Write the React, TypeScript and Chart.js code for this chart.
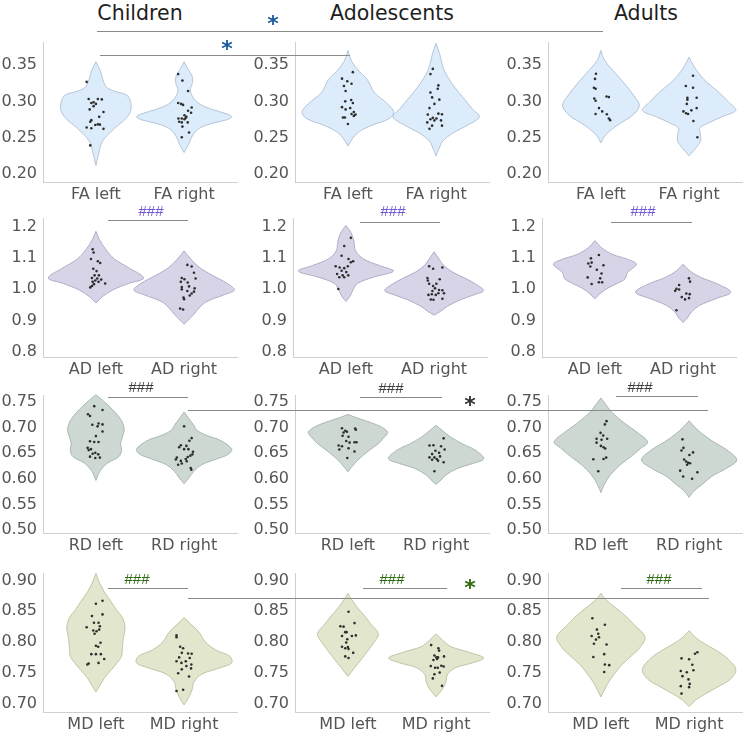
import React, { useEffect, useRef } from "react";
import { Chart, registerables } from "chart.js";
Chart.register(...registerables);
const FONT = "'DejaVu Sans', 'Liberation Sans', Arial, sans-serif";
Chart.defaults.font.family = FONT;

type Pair = [number, number];

const GROUPS = ["Children", "Adolescents", "Adults"];
const MEASURES = ["FA", "AD", "RD", "MD"];
const SIDES = ["left", "right"];

const FA_TICKS = [0.2, 0.25, 0.3, 0.35];
const AD_TICKS = [0.8, 0.9, 1.0, 1.1, 1.2];
const RD_TICKS = [0.5, 0.55, 0.6, 0.65, 0.7, 0.75];
const MD_TICKS = [0.7, 0.75, 0.8, 0.85, 0.9];
const TICK_DECIMALS = [2, 1, 2, 2];

// violin outlines: [value, half-width in category units]
const FA_CH_L_SHAPE: Pair[] = [[0.3545,0],[0.3433,0.045],[0.321,0.11],[0.3144,0.2],[0.3077,0.36],[0.29,0.40],[0.2765,0.34],[0.263,0.21],[0.2454,0.075],[0.2276,0.03],[0.212,0]];
const FA_CH_R_SHAPE: Pair[] = [[0.3545,0],[0.345,0.04],[0.335,0.09],[0.326,0.095],[0.315,0.07],[0.304,0.11],[0.296,0.18],[0.289,0.32],[0.2826,0.49],[0.2788,0.54],[0.2743,0.47],[0.2699,0.32],[0.263,0.17],[0.254,0.1],[0.2409,0.05],[0.2298,0]];
const FA_AO_L_SHAPE: Pair[] = [[0.370,0],[0.3545,0.045],[0.3411,0.13],[0.330,0.22],[0.3122,0.30],[0.2966,0.45],[0.2854,0.52],[0.2765,0.47],[0.2676,0.28],[0.2587,0.13],[0.2498,0.056],[0.2387,0]];
const FA_AO_R_SHAPE: Pair[] = [[0.3798,0],[0.3656,0.04],[0.3433,0.09],[0.3211,0.2],[0.3033,0.32],[0.2899,0.41],[0.2788,0.49],[0.2676,0.36],[0.2565,0.19],[0.2454,0.075],[0.2342,0.03],[0.2253,0]];
const FA_AU_L_SHAPE: Pair[] = [[0.370,0],[0.3567,0.04],[0.3433,0.13],[0.3255,0.26],[0.3077,0.375],[0.2944,0.435],[0.281,0.36],[0.2676,0.19],[0.2543,0.056],[0.2431,0]];
const FA_AU_R_SHAPE: Pair[] = [[0.3611,0],[0.3478,0.056],[0.33,0.17],[0.3122,0.34],[0.2988,0.45],[0.2877,0.53],[0.2788,0.37],[0.2699,0.21],[0.2632,0.12],[0.2543,0.13],[0.2454,0.13],[0.2365,0.08],[0.2253,0]];

const AD_CH_L_SHAPE: Pair[] = [[1.1844,0],[1.1585,0.04],[1.1273,0.11],[1.0962,0.21],[1.0702,0.36],[1.0359,0.54],[1.0183,0.37],[0.9975,0.19],[0.9767,0.075],[0.956,0]];
const AD_CH_R_SHAPE: Pair[] = [[1.1221,0],[1.0962,0.075],[1.0702,0.17],[1.0442,0.32],[1.0183,0.49],[0.9975,0.57],[0.9819,0.45],[0.9611,0.26],[0.9404,0.17],[0.9196,0.11],[0.904,0.056],[0.8885,0]];
const AD_AO_L_SHAPE: Pair[] = [[1.2031,0],[1.1792,0.06],[1.1533,0.09],[1.1221,0.11],[1.0962,0.2],[1.0754,0.38],[1.0577,0.54],[1.039,0.32],[1.0183,0.13],[0.9975,0.08],[0.9767,0.045],[0.9612,0]];
const AD_AO_R_SHAPE: Pair[] = [[1.119,0],[1.0962,0.056],[1.0754,0.11],[1.0546,0.21],[1.0338,0.36],[1.0131,0.49],[0.9954,0.56],[0.9819,0.45],[0.9664,0.3],[0.9456,0.15],[0.93,0.075],[0.9175,0]];
const AD_AU_L_SHAPE: Pair[] = [[1.155,0],[1.1319,0.075],[1.111,0.2],[1.0953,0.37],[1.0796,0.47],[1.0534,0.37],[1.0325,0.34],[1.0168,0.24],[1.001,0.13],[0.9853,0.056],[0.9696,0]];
const AD_AU_R_SHAPE: Pair[] = [[1.0796,0],[1.0586,0.075],[1.0377,0.2],[1.0168,0.39],[0.9906,0.54],[0.9696,0.37],[0.9487,0.19],[0.9277,0.094],[0.9068,0.045],[0.8942,0]];

const RD_CH_L_SHAPE: Pair[] = [[0.7647,0],[0.7423,0.15],[0.7168,0.28],[0.6977,0.32],[0.6818,0.30],[0.669,0.28],[0.6563,0.29],[0.6435,0.26],[0.6307,0.13],[0.6148,0.045],[0.5969,0]];
const RD_CH_R_SHAPE: Pair[] = [[0.7309,0],[0.72,0.045],[0.7073,0.1],[0.6945,0.15],[0.6849,0.26],[0.6754,0.41],[0.6582,0.54],[0.648,0.5],[0.639,0.37],[0.6276,0.2],[0.6148,0.11],[0.602,0.056],[0.5906,0]];
const RD_AO_L_SHAPE: Pair[] = [[0.7262,0],[0.7198,0.094],[0.7102,0.26],[0.7005,0.39],[0.6909,0.45],[0.6812,0.41],[0.6684,0.34],[0.6555,0.24],[0.6427,0.15],[0.6298,0.075],[0.6138,0]];
const RD_AO_R_SHAPE: Pair[] = [[0.705,0],[0.6941,0.075],[0.6812,0.17],[0.6684,0.3],[0.6555,0.45],[0.6395,0.54],[0.6298,0.41],[0.6202,0.24],[0.6073,0.11],[0.5977,0.056],[0.5893,0]];
const RD_AU_L_SHAPE: Pair[] = [[0.7583,0],[0.7455,0.056],[0.7328,0.11],[0.72,0.19],[0.7073,0.28],[0.6913,0.41],[0.6722,0.53],[0.6594,0.45],[0.6435,0.34],[0.6276,0.22],[0.6084,0.11],[0.5893,0.04],[0.5733,0]];
const RD_AU_R_SHAPE: Pair[] = [[0.7136,0],[0.7009,0.067],[0.6881,0.15],[0.6722,0.28],[0.6563,0.43],[0.6371,0.54],[0.6212,0.43],[0.6052,0.26],[0.5893,0.15],[0.5765,0.056],[0.5638,0]];

const MD_CH_L_SHAPE: Pair[] = [[0.9115,0],[0.8974,0.037],[0.8817,0.094],[0.866,0.17],[0.8529,0.23],[0.8398,0.3],[0.8241,0.33],[0.8058,0.31],[0.7901,0.3],[0.777,0.29],[0.7665,0.24],[0.756,0.18],[0.7429,0.1],[0.7298,0.045],[0.7194,0]];
const MD_CH_R_SHAPE: Pair[] = [[0.8398,0],[0.8293,0.075],[0.8162,0.17],[0.8005,0.24],[0.7874,0.36],[0.777,0.52],[0.7665,0.54],[0.7586,0.41],[0.7482,0.2],[0.7351,0.11],[0.7246,0.094],[0.7115,0.056],[0.6984,0]];
const MD_AO_L_SHAPE: Pair[] = [[0.8791,0],[0.8686,0.045],[0.8555,0.11],[0.8424,0.19],[0.8293,0.26],[0.8136,0.345],[0.8005,0.3],[0.7848,0.22],[0.7717,0.15],[0.7586,0.075],[0.7445,0]];
const MD_AO_R_SHAPE: Pair[] = [[0.8136,0],[0.8031,0.075],[0.7927,0.17],[0.7838,0.37],[0.7743,0.54],[0.7665,0.41],[0.7586,0.22],[0.7482,0.13],[0.7351,0.11],[0.7246,0.075],[0.7115,0]];
const MD_AU_L_SHAPE: Pair[] = [[0.8791,0],[0.8686,0.056],[0.8555,0.17],[0.8424,0.28],[0.8293,0.37],[0.8084,0.5],[0.7927,0.45],[0.7796,0.36],[0.7639,0.24],[0.7482,0.15],[0.7325,0.075],[0.7115,0]];
const MD_AU_R_SHAPE: Pair[] = [[0.8188,0],[0.8084,0.067],[0.7979,0.17],[0.7874,0.3],[0.7743,0.43],[0.756,0.53],[0.7403,0.47],[0.7272,0.32],[0.7168,0.19],[0.7063,0.075],[0.6958,0]];

// individual subjects: [horizontal jitter in category units, value]
const FA_CH_L_DOTS: Pair[] = [[-0.105,0.3268],[-0.082,0.3033],[0.022,0.3033],[0.067,0.3028],[-0.026,0.2988],[-0.052,0.2979],[-0.026,0.2935],[-0.071,0.289],[0.086,0.2854],[0.037,0.2788],[-0.052,0.2743],[-0.064,0.2721],[-0.105,0.2641],[-0.052,0.2632],[-0.007,0.2676],[0.022,0.2685],[0.045,0.2681],[0.086,0.2623],[-0.064,0.2396],[0,0.2966]];
const FA_CH_R_DOTS: Pair[] = [[-0.067,0.3375],[-0.019,0.3286],[0.045,0.3144],[-0.067,0.2979],[-0.034,0.2966],[-0.011,0.2952],[0.086,0.2917],[0.045,0.2872],[0.079,0.2845],[0.004,0.281],[0.026,0.2788],[-0.064,0.2765],[-0.026,0.2765],[0.004,0.2756],[0.019,0.2774],[-0.026,0.2712],[-0.056,0.2721],[0.041,0.2712],[-0.019,0.2654],[0.056,0.2574],[-0.026,0.2507]];
const FA_AO_L_DOTS: Pair[] = [[0.056,0.3402],[-0.067,0.3313],[-0.007,0.3277],[0.041,0.3242],[-0.045,0.3211],[-0.026,0.3144],[-0.03,0.3001],[0.037,0.3019],[0.056,0.2979],[-0.067,0.2921],[-0.026,0.289],[0.026,0.2908],[0.067,0.2854],[0.041,0.2828],[0.086,0.2819],[0.067,0.2801],[-0.056,0.2779],[-0.034,0.2779],[0,0.269]];
const FA_AO_R_DOTS: Pair[] = [[-0.037,0.3447],[-0.064,0.3375],[0.026,0.322],[0.019,0.3175],[-0.064,0.3122],[-0.045,0.3055],[0.037,0.3024],[-0.019,0.2966],[-0.075,0.2908],[0.026,0.2832],[0.067,0.2823],[-0.094,0.2819],[-0.037,0.2774],[-0.064,0.2756],[0.004,0.2765],[-0.019,0.2739],[0.056,0.2739],[-0.1,0.2712],[-0.045,0.2667],[0.067,0.2667],[-0.075,0.2623]];
const FA_AU_L_DOTS: Pair[] = [[-0.056,0.338],[-0.067,0.3309],[-0.079,0.3188],[-0.06,0.3175],[-0.075,0.3041],[-0.06,0.301],[0.064,0.3068],[0.09,0.3059],[-0.022,0.2908],[0.015,0.2863],[-0.06,0.2828],[0.067,0.2823],[0.09,0.2765],[0.105,0.2743]];
const FA_AU_R_DOTS: Pair[] = [[0.045,0.3353],[-0.037,0.3211],[0.045,0.3188],[-0.019,0.305],[-0.019,0.3024],[0.086,0.305],[-0.026,0.2966],[0.086,0.2908],[-0.064,0.2863],[-0.034,0.2837],[-0.011,0.2828],[0.026,0.2877],[0.049,0.273],[0.094,0.2507]];

const AD_CH_L_DOTS: Pair[] = [[-0.037,1.1273],[-0.026,1.1169],[-0.056,1.0962],[0.022,1.0889],[0.049,1.0837],[-0.03,1.065],[0.007,1.0577],[0.034,1.0442],[-0.015,1.0442],[-0.045,1.0359],[0.015,1.0339],[-0.007,1.0276],[0.06,1.0307],[-0.037,1.0235],[0.03,1.0235],[0.105,1.0183],[-0.022,1.0162],[-0.045,1.01],[-0.064,1.0058]];
const AD_CH_R_DOTS: Pair[] = [[0.037,1.0775],[0.086,1.0723],[0.112,1.0525],[-0.026,1.0359],[0.004,1.0318],[-0.037,1.0235],[0.041,1.0214],[0.131,1.0339],[-0.026,1.0069],[0.056,1.0089],[0.12,1.0027],[0.112,0.9923],[-0.026,0.9996],[0.037,0.9944],[0.086,0.9861],[-0.007,0.9736],[0,0.9684],[0.064,0.9798],[-0.045,0.9383],[-0.011,0.9352]];
const AD_AO_L_DOTS: Pair[] = [[0.056,1.1637],[-0.019,1.1377],[-0.049,1.1065],[0.03,1.0962],[0.056,1.0858],[0.082,1.0889],[-0.116,1.0733],[-0.071,1.0692],[-0.019,1.0671],[0.022,1.0733],[-0.049,1.0588],[0.004,1.0546],[-0.1,1.0484],[-0.037,1.0442],[0.026,1.0442],[-0.019,1.038],[-0.075,1.038],[-0.086,1.0006]];
const AD_AO_R_DOTS: Pair[] = [[-0.056,1.0733],[-0.011,1.065],[0.094,1.0692],[-0.075,1.0359],[-0.071,1.0276],[0.064,1.0318],[-0.056,1.0172],[-0.011,1.01],[0.026,1.0172],[0.011,1.0027],[0.056,0.9975],[0.094,0.9965],[-0.019,0.9944],[-0.064,0.9819],[-0.026,0.984],[0.019,0.9819],[0.049,0.9871],[0.112,0.9871],[-0.037,0.9674],[-0.007,0.9664],[0.094,0.9694]];
const AD_AU_L_DOTS: Pair[] = [[0.045,1.1089],[-0.045,1.0984],[-0.037,1.0848],[-0.075,1.0817],[-0.052,1.0722],[0.097,1.0764],[0.022,1.0618],[0.075,1.0503],[-0.082,1.0377],[0.06,1.0346],[0.045,1.022],[-0.037,1.0168],[0.082,1.022]];
const AD_AU_R_DOTS: Pair[] = [[0.067,1.0346],[-0.045,1.0136],[0.079,1.0241],[-0.075,1.001],[-0.09,0.9948],[-0.045,0.999],[0.037,0.9864],[0.075,0.9843],[-0.015,0.9749],[0.022,0.9675],[0.067,0.9717],[-0.075,0.933]];

const RD_CH_L_DOTS: Pair[] = [[-0.019,0.7423],[0.075,0.7347],[-0.09,0.7264],[-0.067,0.7232],[0.03,0.7085],[-0.041,0.706],[0.019,0.7028],[0.075,0.7066],[0.075,0.6926],[0,0.6837],[-0.067,0.6735],[-0.019,0.6722],[0.03,0.6722],[-0.094,0.6607],[-0.082,0.6563],[-0.056,0.6582],[-0.007,0.6511],[-0.037,0.6492],[0.026,0.648],[-0.067,0.6435],[-0.007,0.6409],[0.045,0.6416]];
const RD_CH_R_DOTS: Pair[] = [[0,0.7028],[0.086,0.6798],[0.06,0.6747],[-0.037,0.6658],[0.026,0.6645],[-0.056,0.662],[0,0.6582],[0.049,0.6582],[0.101,0.6531],[0.071,0.6454],[0.041,0.6429],[-0.082,0.6416],[-0.094,0.6378],[-0.037,0.6352],[0.019,0.639],[0.03,0.6346],[0.094,0.648],[-0.067,0.6276],[-0.026,0.6301],[0.075,0.6212],[0.082,0.618]];
const RD_AO_L_DOTS: Pair[] = [[-0.067,0.6992],[-0.03,0.6941],[-0.049,0.6909],[-0.011,0.6922],[0.082,0.6986],[0.09,0.696],[-0.06,0.6844],[0.007,0.6825],[-0.019,0.6742],[0.019,0.671],[0.075,0.6716],[0.097,0.6716],[-0.105,0.6652],[-0.067,0.6639],[-0.097,0.6575],[0.007,0.66],[0.075,0.6536],[-0.007,0.6407]];
const RD_AO_R_DOTS: Pair[] = [[0.086,0.6793],[-0.075,0.6652],[-0.03,0.6658],[0.056,0.6639],[0.097,0.6575],[-0.007,0.6549],[0.034,0.651],[-0.045,0.6485],[0.045,0.644],[-0.075,0.642],[-0.019,0.642],[0.007,0.6388],[0.022,0.6356],[-0.045,0.6375],[0.086,0.6324],[-0.019,0.615]];
const RD_AU_L_DOTS: Pair[] = [[0.064,0.713],[0.045,0.7066],[-0.004,0.6901],[0.026,0.685],[-0.049,0.6786],[0.007,0.6767],[-0.049,0.6709],[0.071,0.6786],[0,0.6645],[0.03,0.662],[0.049,0.6594],[0.06,0.6416],[0.03,0.639],[-0.086,0.6384],[-0.03,0.6148]];
const RD_AU_R_DOTS: Pair[] = [[-0.075,0.6773],[-0.064,0.6607],[-0.086,0.6556],[0.045,0.6518],[0.004,0.6467],[-0.056,0.6378],[-0.034,0.6339],[-0.011,0.6314],[0.011,0.6307],[-0.022,0.6276],[-0.101,0.6161],[0.094,0.6129],[-0.067,0.6046],[0.034,0.6001]];

const MD_CH_L_DOTS: Pair[] = [[0,0.8623],[0.075,0.867],[-0.045,0.8424],[0.075,0.845],[-0.022,0.8314],[0.03,0.8314],[0.045,0.8257],[-0.105,0.8241],[0.037,0.8204],[-0.03,0.8188],[0.007,0.8178],[-0.015,0.8136],[0.052,0.799],[0,0.7942],[0.026,0.7927],[-0.052,0.7806],[0,0.7806],[0.056,0.7806],[0.094,0.7728],[0.03,0.7665],[-0.082,0.7654],[-0.097,0.7639]];
const MD_CH_R_DOTS: Pair[] = [[-0.086,0.811],[-0.086,0.8079],[-0.045,0.7927],[-0.011,0.7901],[-0.026,0.7827],[0.045,0.7817],[0.086,0.7812],[-0.056,0.7754],[-0.086,0.7691],[-0.03,0.7665],[0.064,0.7743],[0.019,0.7691],[0.026,0.7613],[-0.026,0.756],[0.082,0.7639],[0.079,0.7576],[-0.067,0.7497],[0.056,0.7445],[-0.086,0.7209],[-0.011,0.723]];
const MD_AO_L_DOTS: Pair[] = [[0.007,0.8492],[-0.086,0.8257],[-0.049,0.8251],[0.075,0.8309],[-0.03,0.8162],[-0.015,0.8162],[0.045,0.8099],[0.09,0.811],[-0.007,0.8047],[-0.067,0.8099],[-0.019,0.7995],[-0.067,0.7927],[0,0.7921],[-0.03,0.7901],[0.007,0.789],[0.06,0.7827],[-0.03,0.777],[0.007,0.7743]];
const MD_AO_R_DOTS: Pair[] = [[-0.056,0.7953],[0.026,0.7901],[0.034,0.7864],[-0.019,0.7785],[0.004,0.7754],[0.022,0.7754],[0.011,0.7728],[0.09,0.777],[-0.03,0.7712],[-0.06,0.7613],[-0.011,0.7586],[0.019,0.7586],[0.06,0.7618],[0.086,0.7607],[0.041,0.7508],[-0.019,0.7482],[-0.037,0.7414],[0.067,0.7293]];
const MD_AU_L_DOTS: Pair[] = [[-0.097,0.8387],[-0.045,0.8204],[0.045,0.8283],[-0.03,0.8136],[-0.022,0.8079],[-0.105,0.8099],[-0.056,0.8042],[-0.079,0.7974],[0.064,0.7963],[-0.086,0.7759],[0.037,0.7806],[0.045,0.7639],[0.094,0.7628],[0.037,0.7518]];
const MD_AU_R_DOTS: Pair[] = [[0.094,0.7838],[0.067,0.7812],[-0.086,0.7738],[0,0.7723],[0.037,0.7634],[0.049,0.7545],[-0.094,0.7534],[-0.026,0.7513],[-0.075,0.745],[-0.007,0.7398],[0.007,0.7325],[-0.094,0.7288],[0,0.7272],[-0.086,0.7168]];

// ---- layout / style (not data) ----
const ROW_TICKS = [FA_TICKS, AD_TICKS, RD_TICKS, MD_TICKS];
const ROW_MIN = [0.1893, 0.784, 0.494, 0.687];
const ROW_MAX = [0.3808, 1.225, 0.763, 0.911];
const ROW_TOP = [39, 215, 392, 570];
const ROW_BOTTOM = [182, 357, 533, 712];
const AXIS_X = [[43, 295, 548], [43, 293, 542], [43, 295, 548], [43, 295, 548]];
const ROW_FILL = ["#ddecfa", "#d7d4e7", "#cdd8d2", "#e2e6cd"];
const ROW_EDGE = ["#b3c4d6", "#b0acc6", "#a9b7af", "#bfc5a4"];
const DOT_COLOR = "#2e2e2e";
const AXIS_COLOR = "#cfcfcf";
const LABEL_COLOR = "#555555";
const Y_AXIS_W = 43;
const PLOT_W = 196;
const PAD_TOP = 12;
const X_AXIS_H = 24;

const SHAPES: Pair[][][][] = [
  [[FA_CH_L_SHAPE, FA_CH_R_SHAPE], [FA_AO_L_SHAPE, FA_AO_R_SHAPE], [FA_AU_L_SHAPE, FA_AU_R_SHAPE]],
  [[AD_CH_L_SHAPE, AD_CH_R_SHAPE], [AD_AO_L_SHAPE, AD_AO_R_SHAPE], [AD_AU_L_SHAPE, AD_AU_R_SHAPE]],
  [[RD_CH_L_SHAPE, RD_CH_R_SHAPE], [RD_AO_L_SHAPE, RD_AO_R_SHAPE], [RD_AU_L_SHAPE, RD_AU_R_SHAPE]],
  [[MD_CH_L_SHAPE, MD_CH_R_SHAPE], [MD_AO_L_SHAPE, MD_AO_R_SHAPE], [MD_AU_L_SHAPE, MD_AU_R_SHAPE]],
];
const DOTS: Pair[][][][] = [
  [[FA_CH_L_DOTS, FA_CH_R_DOTS], [FA_AO_L_DOTS, FA_AO_R_DOTS], [FA_AU_L_DOTS, FA_AU_R_DOTS]],
  [[AD_CH_L_DOTS, AD_CH_R_DOTS], [AD_AO_L_DOTS, AD_AO_R_DOTS], [AD_AU_L_DOTS, AD_AU_R_DOTS]],
  [[RD_CH_L_DOTS, RD_CH_R_DOTS], [RD_AO_L_DOTS, RD_AO_R_DOTS], [RD_AU_L_DOTS, RD_AU_R_DOTS]],
  [[MD_CH_L_DOTS, MD_CH_R_DOTS], [MD_AO_L_DOTS, MD_AO_R_DOTS], [MD_AU_L_DOTS, MD_AU_R_DOTS]],
];

// annotation overlay
const LINE_COLOR = "#8a8a8a";
const OVER_LINES = [
  { x1: 97, x2: 603, y: 31 },
  { x1: 100, x2: 350, y: 55 },
  { x1: 108, x2: 188, y: 220 },
  { x1: 360, x2: 440, y: 222 },
  { x1: 611, x2: 692, y: 222 },
  { x1: 108, x2: 188, y: 397 },
  { x1: 360, x2: 442, y: 397 },
  { x1: 616, x2: 698, y: 396 },
  { x1: 188, x2: 708, y: 410 },
  { x1: 108, x2: 188, y: 588 },
  { x1: 363, x2: 447, y: 588 },
  { x1: 621, x2: 702, y: 588 },
  { x1: 188, x2: 709, y: 598 },
];
const TITLE_X = [140, 392, 646];
const HASH = "###";
const OVER_TEXTS = [
  { t: "*", x: 273, y: 24, size: 22, color: "#1d5c9c" },
  { t: "*", x: 227, y: 49, size: 22, color: "#1d5c9c" },
  { t: HASH, x: 151, y: 210, size: 15, color: "#7457d0" },
  { t: HASH, x: 393, y: 210, size: 15, color: "#7457d0" },
  { t: HASH, x: 643, y: 210, size: 15, color: "#7457d0" },
  { t: HASH, x: 141, y: 386, size: 15, color: "#3c3c3c" },
  { t: HASH, x: 391, y: 387, size: 15, color: "#3c3c3c" },
  { t: HASH, x: 640, y: 386, size: 15, color: "#3c3c3c" },
  { t: "*", x: 470, y: 405, size: 22, color: "#333333" },
  { t: HASH, x: 137, y: 578, size: 15, color: "#2e6a12" },
  { t: HASH, x: 392, y: 578, size: 15, color: "#2e6a12" },
  { t: HASH, x: 659, y: 578, size: 15, color: "#2e6a12" },
  { t: "*", x: 470, y: 588, size: 22, color: "#2e6a12" },
];

function outline(shape: Pair[], center: number) {
  const right = shape.map(([v, w]) => ({ x: center + w, y: v }));
  const left = shape.slice().reverse().map(([v, w]) => ({ x: center - w, y: v }));
  return right.concat(left);
}

function Panel({ row, col }: { row: number; col: number }) {
  const ref = useRef<HTMLCanvasElement>(null);
  const left = AXIS_X[row][col] - Y_AXIS_W;
  const top = ROW_TOP[row] - PAD_TOP;
  const width = Y_AXIS_W + PLOT_W + 2;
  const height = ROW_BOTTOM[row] - ROW_TOP[row] + PAD_TOP + X_AXIS_H;
  useEffect(() => {
    const m = MEASURES[row];
    const xLabels = SIDES.map((s) => `${m} ${s}`);
    const ticks = ROW_TICKS[row];
    const dec = TICK_DECIMALS[row];
    const font = { size: 16, family: FONT };
    const datasets: any[] = [];
    [0, 1].forEach((i) => {
      datasets.push({
        type: "scatter",
        data: DOTS[row][col][i].map(([dx, v]) => ({ x: i + 1 + dx, y: v })),
        pointRadius: 1.3,
        pointBackgroundColor: DOT_COLOR,
        pointBorderWidth: 0,
        showLine: false,
        clip: false,
      });
    });
    [0, 1].forEach((i) => {
      datasets.push({
        type: "line",
        data: outline(SHAPES[row][col][i], i + 1),
        fill: "shape",
        backgroundColor: ROW_FILL[row],
        borderColor: ROW_EDGE[row],
        borderWidth: 1,
        pointRadius: 0,
        tension: 0.35,
        clip: false,
      });
    });
    const chart = new Chart(ref.current as HTMLCanvasElement, {
      type: "scatter",
      data: { datasets },
      options: {
        animation: false,
        responsive: false,
        events: [],
        layout: { padding: { top: PAD_TOP, right: 2, left: 0, bottom: 0 } },
        plugins: { legend: { display: false }, tooltip: { enabled: false } },
        scales: {
          x: {
            type: "linear",
            min: 0.4,
            max: 2.6,
            grid: { display: false, drawTicks: false },
            border: { display: true, color: AXIS_COLOR, width: 1 },
            afterBuildTicks: (s: any) => {
              s.ticks = [{ value: 1 }, { value: 2 }];
            },
            afterFit: (s: any) => {
              s.height = X_AXIS_H;
            },
            ticks: {
              autoSkip: false,
              maxRotation: 0,
              padding: 3,
              color: LABEL_COLOR,
              font,
              callback: (_v: any, idx: number) => xLabels[idx],
            },
          },
          y: {
            type: "linear",
            min: ROW_MIN[row],
            max: ROW_MAX[row],
            grid: { display: false, drawTicks: false },
            border: { display: true, color: AXIS_COLOR, width: 1 },
            afterBuildTicks: (s: any) => {
              s.ticks = ticks.map((v) => ({ value: v }));
            },
            afterFit: (s: any) => {
              s.width = Y_AXIS_W;
            },
            ticks: {
              autoSkip: false,
              padding: 6,
              color: LABEL_COLOR,
              font,
              callback: (v: any) => Number(v).toFixed(dec),
            },
          },
        },
      } as any,
    });
    return () => chart.destroy();
  }, [row, col]);
  return (
    <canvas
      ref={ref}
      width={width}
      height={height}
      style={{ position: "absolute", left, top, width, height }}
    />
  );
}

export default function App() {
  const panels: JSX.Element[] = [];
  for (let r = 0; r < 4; r++) for (let c = 0; c < 3; c++) panels.push(<Panel key={`${r}-${c}`} row={r} col={c} />);
  return (
    <div
      style={{
        position: "absolute",
        left: 0,
        top: 0,
        width: 746,
        height: 736,
        overflow: "hidden",
        background: "#fff",
        fontFamily: FONT,
      }}
    >
      {panels}
      {GROUPS.map((g, i) => (
        <div
          key={g}
          style={{
            position: "absolute",
            left: TITLE_X[i],
            top: 13,
            transform: "translate(-50%, -50%)",
            fontSize: 20.5,
            lineHeight: 1,
            color: "#1e1e1e",
            whiteSpace: "nowrap",
          }}
        >
          {g}
        </div>
      ))}
      {OVER_LINES.map((l, i) => (
        <div
          key={"l" + i}
          style={{
            position: "absolute",
            left: l.x1,
            top: l.y,
            width: l.x2 - l.x1,
            height: 1,
            background: LINE_COLOR,
          }}
        />
      ))}
      {OVER_TEXTS.map((t, i) => (
        <div
          key={"t" + i}
          style={{
            position: "absolute",
            left: t.x,
            top: t.y,
            transform: "translate(-50%, -50%)",
            fontSize: t.size,
            lineHeight: 1,
            color: t.color,
            whiteSpace: "nowrap",
            fontWeight: t.t === HASH ? "normal" : "bold",
            fontFamily: t.t === HASH ? "'Liberation Sans', Arial, sans-serif" : FONT,
          }}
        >
          {t.t}
        </div>
      ))}
    </div>
  );
}
